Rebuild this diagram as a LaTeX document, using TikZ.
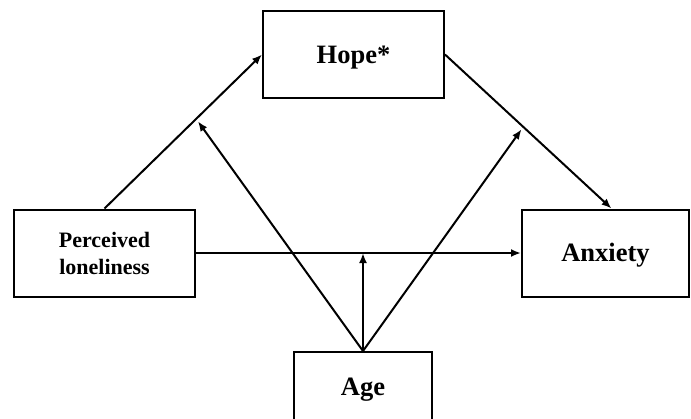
\documentclass[tikz,border=0pt]{standalone}
\usepackage{fontspec}
\setmainfont{Liberation Serif}
\usetikzlibrary{arrows.meta,calc}
\begin{document}
\begin{tikzpicture}[x=1pt,y=-1pt,
  box/.style={draw=black,line width=2pt,fill=white,inner sep=0pt,align=center,font=\bfseries\fontsize{26.5}{30}\selectfont},
  one/.style={text height=17.5pt,text depth=0pt},
  conn/.style={line width=2pt,-{Latex[length=10pt,width=8pt]}}]
\useasboundingbox (0,0) rectangle (691,418);
\node[box,one,minimum width=181,minimum height=87] (H) at (353.5,54.5) {Hope*};
\node[box,minimum width=181,minimum height=87,font=\bfseries\fontsize{22}{27}\selectfont] (P) at (104.5,253) {Perceived\\loneliness};
\node[box,one,minimum width=167,minimum height=87] (A) at (605.5,253) {Anxiety};
\node[box,one,minimum width=138,minimum height=70] (G) at (363,387) {Age};
\coordinate (Atop) at ([xshift=6]A.north);
\draw[conn] (P.north) -- (H.west);
\draw[conn] (H.east) -- (Atop);
\draw[conn] (P.east) -- (A.west);
\coordinate (L) at ($(P.north)!0.582!(H.west)$);
\coordinate (R) at ($(H.east)!0.47!(Atop)$);
\coordinate (M) at (G.north |- P.east);
\draw[conn,shorten >=3pt] (G.north) -- (L);
\draw[conn,shorten >=3pt] (G.north) -- (R);
\draw[conn] (G.north) -- (M);
\end{tikzpicture}
\end{document}
